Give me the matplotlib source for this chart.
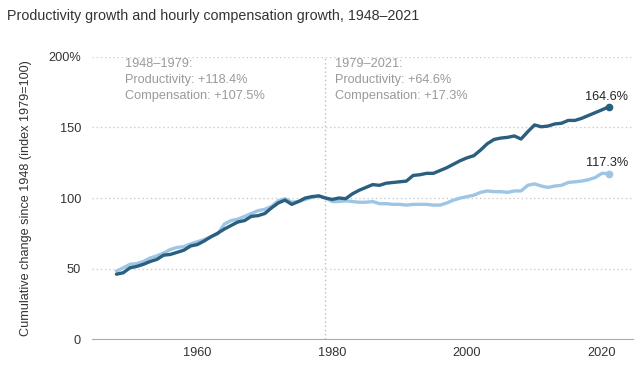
import matplotlib.pyplot as plt

# index 1979 = 100
years = list(range(1948, 2022))
productivity = [46, 47, 50.5, 51.5, 53, 55, 56.5, 59.5, 60, 61.5,
                63, 66, 67, 69.5, 72.5, 75, 78, 80.5, 83, 84,
                87, 87.5, 89, 93, 96.5, 98.5, 95.5, 97.5, 100, 101,
                101.5, 100, 99, 100, 99.5, 103, 105.5, 107.5, 109.5, 109,
                110.5, 111, 111.5, 112, 116, 116.5, 117.5, 117.5, 119.5, 121.5,
                124, 126.5, 128.5, 130, 134, 138.5, 141.5, 142.5, 143, 144,
                141.8, 147, 151.8, 150.5, 151, 152.5, 153, 155, 155, 156.5,
                158.5, 160.5, 162.5, 164.6]
compensation = [48.2, 50.5, 53, 53.5, 55, 57.5, 59, 61, 63.5, 65,
                65.5, 67.5, 69, 70.5, 72.5, 74.5, 81.5, 84, 85, 87,
                89, 91, 92, 94, 98, 99.5, 97, 97.5, 99, 100.5,
                101.5, 100, 97.5, 97.5, 98, 97.5, 97, 97, 97.5, 96,
                96, 95.5, 95.5, 95, 95.5, 95.5, 95.5, 95, 95, 96.5,
                98.5, 100, 101, 102, 104, 105, 104.5, 104.5, 104, 105,
                105, 109, 110, 108.5, 107.5, 108.5, 109, 111, 111.5, 112,
                113, 114.5, 117.5, 117.3]
yticks = [0, 50, 100, 150, 200]
ytick_labels = ['0', '50', '100', '150', '200%']
xticks = [1960, 1980, 2000, 2020]

dark = '#2a5f7e'
light = '#9dc6e6'
grey = '#9a9a9a'

plt.rcParams['font.family'] = ['Liberation Sans', 'DejaVu Sans']

fig = plt.figure(figsize=(6.4, 3.65), dpi=100)
ax = fig.add_axes([0.144, 0.071, 0.845, 0.773])

ax.plot(years, compensation, color=light, lw=2.4, solid_capstyle='round', zorder=3)
ax.plot(years, productivity, color=dark, lw=2.4, solid_capstyle='round', zorder=4)
ax.plot(years[-1], compensation[-1], 'o', color=light, ms=4.5, zorder=3)
ax.plot(years[-1], productivity[-1], 'o', color=dark, ms=4.5, zorder=4)

ax.text(years[-1] - 0.3, productivity[-1] + 3, '%.1f%%' % productivity[-1], ha='center', va='bottom',
        fontsize=9.2, color='#222222')
ax.text(years[-1] - 0.3, compensation[-1] + 3, '%.1f%%' % compensation[-1], ha='center', va='bottom',
        fontsize=9.2, color='#222222')

ax.axvline(1979, ymin=0, ymax=1, color='#bbbbbb', lw=1, ls=(0, (1, 2)), zorder=1)

ax.text(1949.3, 199, '1948\u20131979:\nProductivity: +118.4%\nCompensation: +107.5%',
        ha='left', va='top', fontsize=9.2, color=grey, linespacing=1.42)
ax.text(1980.4, 199, '1979\u20132021:\nProductivity: +64.6%\nCompensation: +17.3%',
        ha='left', va='top', fontsize=9.2, color=grey, linespacing=1.42)

ax.set_xlim(1944.4, 2024.6)
ax.set_ylim(0, 200)
ax.set_xticks(xticks)
ax.set_yticks(yticks)
ax.set_yticklabels(ytick_labels)
ax.tick_params(length=0, labelsize=9.2, colors='#333333', pad=8)
ax.tick_params(axis='x', pad=6)
for y in yticks[1:]:
    ax.axhline(y, color='#cccccc', lw=1, ls=(0, (1, 2)), zorder=0)
for s in ['top', 'right', 'left']:
    ax.spines[s].set_visible(False)
ax.spines['bottom'].set_color('#aaaaaa')
ax.set_ylabel('Cumulative change since 1948 (index 1979=100)', fontsize=9.1, color='#333333', labelpad=12)

fig.text(0.011, 0.955, 'Productivity growth and hourly compensation growth, 1948\u20132021',
         fontsize=10.3, color='#333333', ha='left', va='center')

plt.savefig('out.png', dpi=100)
